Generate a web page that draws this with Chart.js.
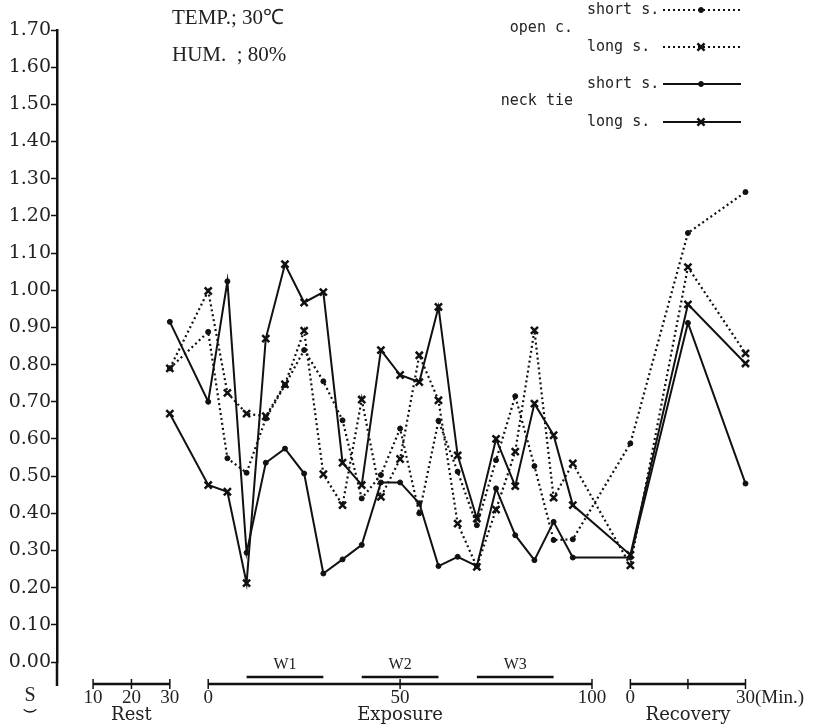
<!DOCTYPE html>
<html>
<head>
<meta charset="utf-8">
<script src="https://cdn.jsdelivr.net/npm/chart.js@4.4.1/dist/chart.umd.min.js"></script>
<style>
	body { margin: 0; background: #fff; }
	canvas { display: block; }
</style>
</head>
<body>
<canvas id="chart" width="822" height="726"></canvas>
<script>
// measurement times (minutes within each phase)
const restMin = [30];
const expMin = [0, 5, 10, 15, 20, 25, 30, 35, 40, 45, 50, 55, 60, 65, 70, 75, 80, 85, 90, 95];
const recMin = [0, 15, 30];

// values: rest 30, exposure 0..95, recovery 0/15/30
const openShort = [0.79, 0.888, 0.548, 0.509, 0.655, 0.745, 0.839, 0.755, 0.65, 0.44, 0.503, 0.628, 0.40, 0.649, 0.512, 0.368, 0.543, 0.715, 0.527, 0.328, 0.33, 0.588, 1.154, 1.264];
const openLong = [0.79, 0.998, 0.724, 0.668, 0.661, 0.747, 0.891, 0.505, 0.422, 0.706, 0.444, 0.546, 0.825, 0.704, 0.372, 0.256, 0.41, 0.566, 0.892, 0.442, 0.534, 0.26, 1.062, 0.83];
const neckShort = [0.915, 0.70, 1.024, 0.294, 0.536, 0.574, 0.507, 0.238, 0.276, 0.315, 0.483, 0.483, 0.427, 0.258, 0.283, 0.258, 0.467, 0.341, 0.274, 0.377, 0.281, 0.281, 0.912, 0.48];
const neckLong = [0.668, 0.476, 0.458, 0.212, 0.870, 1.07, 0.967, 0.995, 0.536, 0.476, 0.839, 0.772, 0.753, 0.955, 0.556, 0.386, 0.60, 0.473, 0.695, 0.61, 0.422, 0.288, 0.962, 0.803];

// axis ticks / labels
const restTicks = [10, 20, 30];
const expTicks = [0, 50, 100];
const recTicks = [0, 15, 30];
const restTickLabels = ['10', '20', '30'];
const expTickLabels = ['0', '50', '100'];
const recTickLabels = ['0', '', '30(Min.)'];
const phaseNames = ['Rest', 'Exposure', 'Recovery'];
const workBlocks = [[10, 30], [40, 60], [70, 90]];
const workNames = ['W1', 'W2', 'W3'];
const groupNames = ['open c.', 'neck tie'];
const sleeveNames = ['short s.', 'long s.'];
const conditionText = ['TEMP.; 30\u2103', 'HUM.  ; 80%'];

// phases laid end to end on one linear axis
const EXP_OFF = 40;
const REC_OFF = 150;

function toPoints(values) {
	const times = [].concat(restMin, expMin.map(m => m + EXP_OFF), recMin.map(m => m + REC_OFF));
	return values.map((v, i) => ({x: times[i], y: v}));
}

const ink = '#111';
const serif = 'DejaVu Serif';

const decor = {
	id: 'decor',
	afterDraw: (chart) => {
		const {ctx, chartArea} = chart;
		const xs = chart.scales.x;
		const px = t => xs.getPixelForValue(t);
		ctx.save();
		ctx.strokeStyle = ink;
		ctx.fillStyle = '#222';

		// y axis continues below zero
		ctx.lineWidth = 2.5;
		ctx.beginPath();
		ctx.moveTo(chartArea.left, chartArea.bottom);
		ctx.lineTo(chartArea.left, 686);
		ctx.stroke();

		// time lines
		const lineY = 684;
		const phases = [
			{ticks: restTicks, labels: restTickLabels, off: 0},
			{ticks: expTicks, labels: expTickLabels, off: EXP_OFF},
			{ticks: recTicks, labels: recTickLabels, off: REC_OFF}
		];
		ctx.font = '19px "Liberation Serif"';
		ctx.textBaseline = 'middle';
		phases.forEach((p, i) => {
			const x0 = px(p.ticks[0] + p.off);
			const x1 = px(p.ticks[p.ticks.length - 1] + p.off);
			ctx.lineWidth = 2.5;
			ctx.beginPath();
			ctx.moveTo(x0, lineY);
			ctx.lineTo(x1, lineY);
			ctx.stroke();
			ctx.lineWidth = 1.5;
			p.ticks.forEach((t, j) => {
				const x = px(t + p.off);
				ctx.beginPath();
				ctx.moveTo(x, lineY - 5);
				ctx.lineTo(x, lineY + 5);
				ctx.stroke();
				const lab = p.labels[j];
				if (!lab) return;
				if (lab.indexOf('(') > 0) {
					const w = ctx.measureText(lab.split('(')[0]).width;
					ctx.textAlign = 'left';
					ctx.fillText(lab, x - w / 2, 698);
				} else {
					ctx.textAlign = 'center';
					ctx.fillText(lab, x, 698);
				}
			});
		});

		// phase names
		ctx.font = '18px ' + serif;
		ctx.textAlign = 'center';
		ctx.fillText(phaseNames[0], px(20), 715);
		ctx.fillText(phaseNames[1], px(50 + EXP_OFF), 715);
		ctx.fillText(phaseNames[2], px(15 + REC_OFF), 715);

		// work periods
		ctx.font = '16px "Liberation Serif"';
		workBlocks.forEach((b, i) => {
			const x0 = px(b[0] + EXP_OFF), x1 = px(b[1] + EXP_OFF);
			ctx.lineWidth = 2.5;
			ctx.beginPath();
			ctx.moveTo(x0, 677);
			ctx.lineTo(x1, 677);
			ctx.stroke();
			ctx.fillText(workNames[i], (x0 + x1) / 2, 665);
		});

		// unit mark
		ctx.font = '20px "Liberation Serif"';
		ctx.fillText('S', 30, 696);
		ctx.lineWidth = 1.3;
		ctx.beginPath();
		ctx.arc(30, 703, 9, Math.PI * 0.25, Math.PI * 0.75);
		ctx.stroke();

		// conditions
		ctx.font = '21px "Liberation Serif"';
		ctx.textAlign = 'left';
		ctx.fillText(conditionText[0], 172, 18);
		ctx.fillText(conditionText[1], 172, 55);

		// legend
		const rowY = [10, 47, 84, 122];
		const groupY = [28, 101];
		ctx.font = '15px "DejaVu Sans Mono"';
		chart.data.datasets.forEach((ds, i) => {
			const y = rowY[i];
			ctx.textAlign = 'left';
			ctx.fillStyle = '#222';
			ctx.fillText(sleeveNames[i % 2], 587, y);
			ctx.lineWidth = ds.borderWidth;
			ctx.setLineDash(ds.borderDash || []);
			ctx.beginPath();
			ctx.moveTo(663, y);
			ctx.lineTo(741, y);
			ctx.stroke();
			ctx.setLineDash([]);
			ctx.fillStyle = ink;
			ctx.lineWidth = ds.pointBorderWidth;
			Chart.helpers.drawPoint(ctx, {
				pointStyle: ds.pointStyle,
				radius: ds.pointRadius,
				rotation: 0,
				borderWidth: ds.pointBorderWidth
			}, 701, y);
		});
		ctx.fillStyle = '#222';
		ctx.textAlign = 'right';
		groupNames.forEach((g, i) => ctx.fillText(g, 573, groupY[i]));

		ctx.restore();
	}
};

function series(values, dotted, cross) {
	return {
		data: toPoints(values),
		borderColor: ink,
		backgroundColor: ink,
		borderWidth: dotted ? 2.2 : 2,
		borderDash: dotted ? [2, 3] : [],
		pointStyle: cross ? 'crossRot' : 'circle',
		pointRadius: cross ? 5 : 2.5,
		pointBorderWidth: cross ? 2.5 : 1,
		pointBackgroundColor: ink,
		pointBorderColor: ink,
		tension: 0
	};
}

new Chart(document.getElementById('chart').getContext('2d'), {
	type: 'line',
	data: {
		datasets: [
			series(openShort, true, false),
			series(openLong, true, true),
			series(neckShort, false, false),
			series(neckLong, false, true)
		]
	},
	options: {
		responsive: false,
		animation: false,
		layout: {
			padding: {top: 30, right: 22, bottom: 64, left: 0}
		},
		scales: {
			x: {
				type: 'linear',
				min: 0.6,
				max: 194.2,
				display: false
			},
			y: {
				min: 0,
				max: 1.7,
				afterFit: (scale) => { scale.width = 57; },
				ticks: {
					stepSize: 0.1,
					padding: 0,
					color: '#222',
					font: {family: serif, size: 19},
					callback: v => v.toFixed(2)
				},
				grid: {
					drawOnChartArea: false,
					drawTicks: true,
					tickLength: 6,
					tickWidth: 1.5,
					tickColor: ink
				},
				border: {
					display: true,
					color: ink,
					width: 2.5
				}
			}
		},
		plugins: {
			legend: {display: false},
			tooltip: {enabled: false}
		}
	},
	plugins: [decor]
});
</script>
</body>
</html>
